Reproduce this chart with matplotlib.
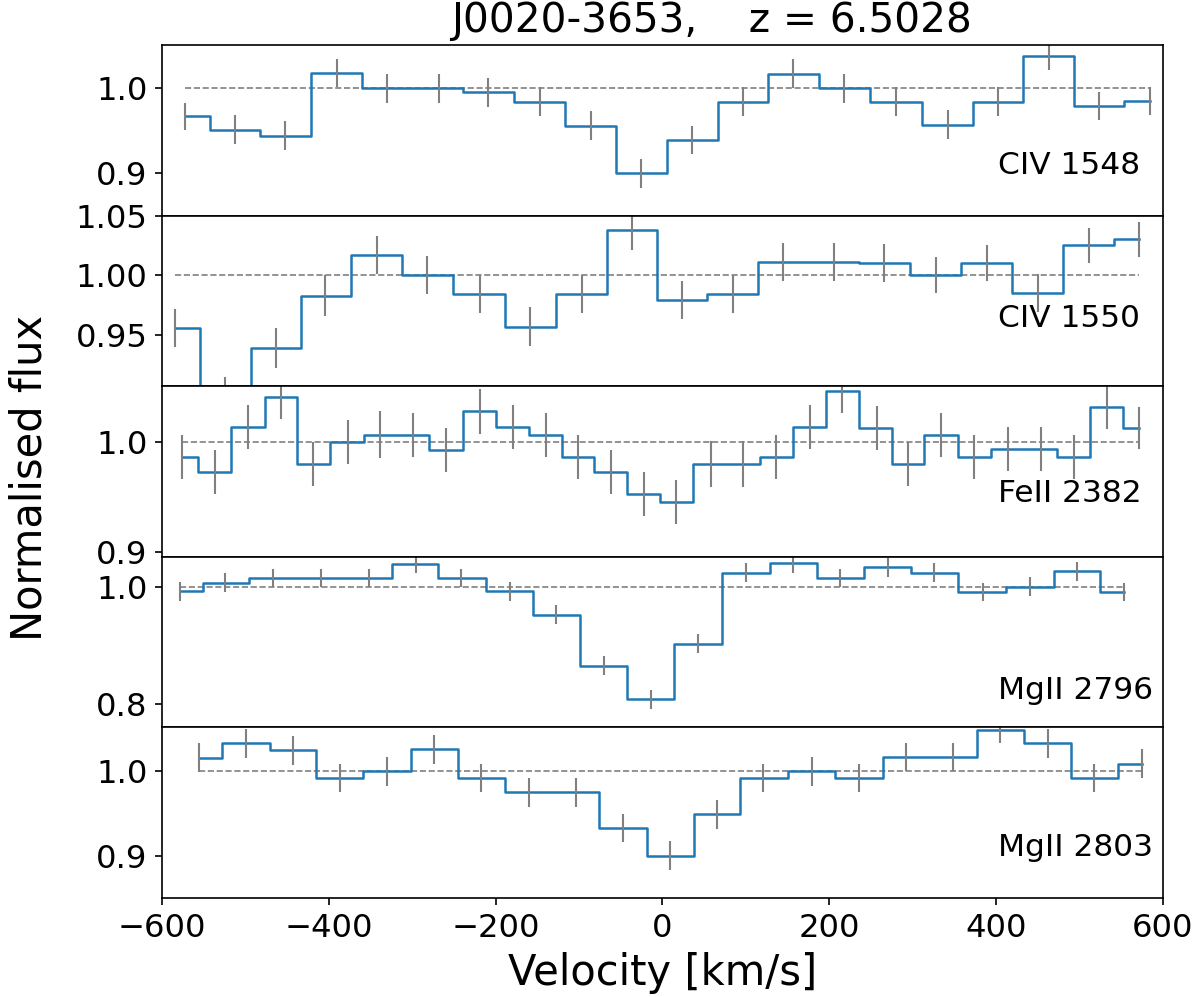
import numpy as np
import matplotlib
matplotlib.use("Agg")
import matplotlib.pyplot as plt

title = "J0020-3653,    z = 6.5028"
line_names = ["CIV 1548", "CIV 1550", "FeII 2382", "MgII 2796", "MgII 2803"]

# CIV 1548
vel_civ1548 = [-573, -513, -453, -390, -330, -268, -209, -147, -86, -26,
               36, 97, 157, 218, 280, 342, 402, 463, 523, 585]
flux_civ1548 = [0.967, 0.951, 0.944, 1.018, 1.000, 1.000, 0.995, 0.984, 0.956, 0.900,
                0.939, 0.984, 1.017, 1.000, 0.984, 0.957, 0.984, 1.038, 0.979, 0.985]
err_civ1548 = [0.016, 0.017, 0.017, 0.017, 0.017, 0.017, 0.017, 0.017, 0.017, 0.017,
               0.017, 0.017, 0.017, 0.017, 0.017, 0.017, 0.017, 0.016, 0.016, 0.016]

# CIV 1550
vel_civ1550 = [-584, -524, -463, -404, -342, -282, -219, -159, -97, -36,
               23, 85, 145, 206, 266, 328, 389, 450, 511, 571]
flux_civ1550 = [0.956, 0.898, 0.939, 0.983, 1.017, 1.000, 0.984, 0.957, 0.984, 1.038,
                0.979, 0.984, 1.011, 1.011, 1.010, 1.000, 1.010, 0.985, 1.025, 1.030]
err_civ1550 = [0.016, 0.017, 0.017, 0.017, 0.016, 0.016, 0.016, 0.016, 0.016, 0.017,
               0.016, 0.016, 0.016, 0.016, 0.016, 0.015, 0.015, 0.016, 0.015, 0.015]

# FeII 2382
vel_feii2382 = [-576, -537, -497, -457, -419, -377, -339, -299, -260, -219,
                -179, -140, -101, -62, -22, 16, 58, 97, 136, 177,
                215, 257, 294, 334, 374, 414, 454, 493, 533, 571]
flux_feii2382 = [0.987, 0.973, 1.014, 1.041, 0.980, 1.000, 1.007, 1.007, 0.993, 1.028,
                 1.014, 1.007, 0.987, 0.973, 0.953, 0.946, 0.980, 0.980, 0.987, 1.014,
                 1.047, 1.013, 0.980, 1.007, 0.987, 0.994, 0.994, 0.987, 1.032, 1.013]
err_feii2382 = [0.020, 0.020, 0.020, 0.020, 0.020, 0.020, 0.021, 0.020, 0.020, 0.020,
                0.020, 0.020, 0.020, 0.020, 0.020, 0.020, 0.021, 0.021, 0.020, 0.020,
                0.020, 0.020, 0.020, 0.020, 0.020, 0.020, 0.020, 0.020, 0.020, 0.019]

# MgII 2796
vel_mgii2796 = [-578, -524, -467, -409, -352, -296, -241, -183, -127, -70,
                -14, 43, 100, 157, 213, 270, 326, 384, 441, 497, 553]
flux_mgii2796 = [0.992, 1.007, 1.015, 1.015, 1.015, 1.039, 1.015, 0.992, 0.952, 0.865,
                 0.808, 0.903, 1.024, 1.040, 1.015, 1.033, 1.024, 0.991, 1.000, 1.026, 0.991]
err_mgii2796 = [0.016, 0.016, 0.016, 0.016, 0.016, 0.016, 0.016, 0.016, 0.016, 0.016,
                0.016, 0.016, 0.016, 0.016, 0.016, 0.016, 0.016, 0.016, 0.016, 0.016, 0.016]

# MgII 2803
vel_mgii2803 = [-556, -499, -443, -387, -330, -274, -217, -160, -104, -47,
                9, 66, 121, 179, 236, 292, 349, 405, 462, 518, 575]
flux_mgii2803 = [1.016, 1.033, 1.025, 0.992, 1.000, 1.026, 0.992, 0.975, 0.975, 0.933,
                 0.900, 0.949, 0.992, 1.000, 0.992, 1.017, 1.017, 1.049, 1.033, 0.992, 1.009]
err_mgii2803 = [0.017, 0.017, 0.017, 0.017, 0.017, 0.017, 0.017, 0.017, 0.017, 0.017,
                0.017, 0.017, 0.017, 0.017, 0.017, 0.017, 0.017, 0.016, 0.017, 0.017, 0.017]

velocities = [vel_civ1548, vel_civ1550, vel_feii2382, vel_mgii2796, vel_mgii2803]
fluxes = [flux_civ1548, flux_civ1550, flux_feii2382, flux_mgii2796, flux_mgii2803]
errors = [err_civ1548, err_civ1550, err_feii2382, err_mgii2796, err_mgii2803]

ylims = [(0.85, 1.051), (0.907, 1.05), (0.896, 1.051), (0.76, 1.051), (0.85, 1.052)]
yticks = [[0.9, 1.0], [0.95, 1.00, 1.05], [0.9, 1.0], [0.8, 1.0], [0.9, 1.0]]
ytick_fmt = ["%.1f", "%.2f", "%.1f", "%.1f", "%.1f"]
label_y = [0.244, 0.349, 0.323, 0.166, 0.246]

fig, axes = plt.subplots(5, 1, figsize=(8, 997 / 150), dpi=150, sharex=True)
fig.subplots_adjust(left=0.135, right=0.969, top=0.9549, bottom=0.0993, hspace=0)

for i, ax in enumerate(axes):
    v = np.array(velocities[i])
    f = np.array(fluxes[i])
    e = np.array(errors[i])
    ax.hlines(1.0, v.min(), v.max(), colors="gray", linestyles="--", lw=0.8)
    ax.step(v, f, where="mid", color="#1f77b4", lw=1.2)
    ax.errorbar(v, f, yerr=e, fmt="none", ecolor="gray", elinewidth=1.0, capsize=0)
    ax.set_xlim(-600, 600)
    ax.set_ylim(*ylims[i])
    ax.set_yticks(yticks[i])
    ax.set_yticklabels([ytick_fmt[i] % t for t in yticks[i]])
    ax.tick_params(axis="y", labelsize=15.5)
    ax.text(0.835, label_y[i], line_names[i], transform=ax.transAxes,
            fontsize=15, ha="left", va="baseline")
    if i < 4:
        ax.tick_params(axis="x", bottom=False, labelbottom=False)

axes[-1].tick_params(axis="x", labelsize=15.5)
axes[-1].set_xticks([-600, -400, -200, 0, 200, 400, 600])
axes[-1].set_xlabel("Velocity [km/s]", fontsize=20)

fig.text(0.5925, 0.979, title, fontsize=19.5, ha="center", va="center")
fig.text(0.025, 0.5205, "Normalised flux", fontsize=20, rotation=90,
         ha="center", va="center")

fig.savefig("out.png", dpi=150)
